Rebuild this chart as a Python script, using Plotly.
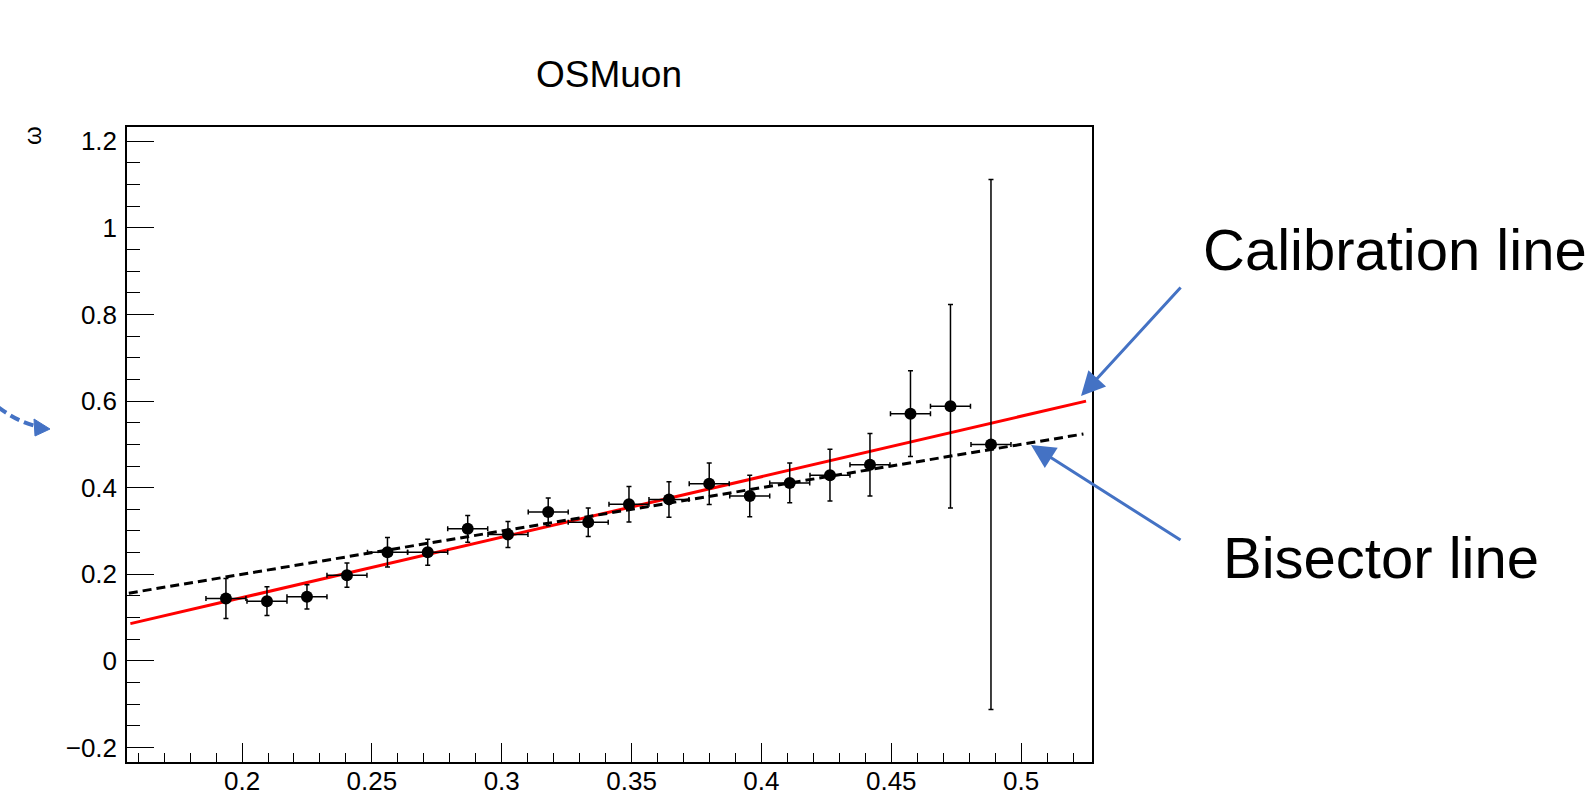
import plotly.graph_objects as go

# ---- data ----
eta = [0.1938, 0.2096, 0.2250, 0.2404, 0.2560, 0.2715, 0.2869, 0.3024, 0.3179, 0.3333,
       0.3490, 0.3644, 0.3799, 0.3955, 0.4109, 0.4264, 0.4418, 0.4574, 0.4728, 0.4884]
eta_err = [0.0077, 0.0077, 0.0077, 0.0077, 0.0077, 0.0077, 0.0077, 0.0077, 0.0077, 0.0077,
           0.0077, 0.0077, 0.0077, 0.0077, 0.0077, 0.0077, 0.0077, 0.0077, 0.0077, 0.0077]
omega = [0.144, 0.138, 0.148, 0.198, 0.251, 0.251, 0.305, 0.292, 0.344, 0.320,
         0.362, 0.373, 0.409, 0.381, 0.411, 0.429, 0.453, 0.571, 0.588, 0.500]
omega_err = [0.046, 0.033, 0.028, 0.028, 0.034, 0.030, 0.031, 0.030, 0.032, 0.033,
             0.041, 0.041, 0.048, 0.048, 0.046, 0.060, 0.072, 0.099, 0.235, 0.612]

calib_x = [0.157, 0.525]
calib_y = [0.086, 0.600]
bisector_x = [0.1564, 0.524]
bisector_y = [0.1564, 0.524]

title_text = "OSMuon"
x_title = "η"
y_title = "ω"
label_calib = "Calibration line"
label_bisector = "Bisector line"

# ---- geometry (pixels) ----
W, H = 1591, 803
L, R, T, B = 127, 1092, 127, 762
PW, PH = R - L, B - T


def px(xp):
    return (xp - L) / PW


def py(yp):
    return (B - yp) / PH


FONT = "Liberation Sans, Arial, Helvetica, sans-serif"
BLUE = "#4472C4"

fig = go.Figure()

fig.add_trace(go.Scatter(
    x=calib_x, y=calib_y, mode="lines",
    line=dict(color="#FF0000", width=3), hoverinfo="skip", showlegend=False))
fig.add_trace(go.Scatter(
    x=bisector_x, y=bisector_y, mode="lines",
    line=dict(color="black", width=3, dash="9px,5px"), hoverinfo="skip", showlegend=False))
fig.add_trace(go.Scatter(
    x=eta, y=omega, mode="markers",
    marker=dict(color="black", size=12),
    error_x=dict(type="data", array=eta_err, color="black", thickness=1.5, width=2.5),
    error_y=dict(type="data", array=omega_err, color="black", thickness=1.5, width=2.5),
    showlegend=False))

axis_common = dict(
    showgrid=False, zeroline=False, showline=True, linecolor="black", linewidth=1.5,
    mirror=True, ticks="inside", tickcolor="black", tickwidth=1.3, automargin=False,
    tickfont=dict(family=FONT, size=26, color="black"),
)

fig.update_xaxes(
    range=[0.1557, 0.5273], tick0=0, dtick=0.05, ticklen=19, ticklabelstandoff=-5,
    minor=dict(ticks="inside", dtick=0.01, ticklen=9, tickcolor="black", tickwidth=1.3),
    **axis_common)
fig.update_yaxes(
    range=[-0.2335, 1.233], tick0=0, dtick=0.2, ticklen=27, ticklabelstandoff=3,
    minor=dict(ticks="inside", dtick=0.05, ticklen=13, tickcolor="black", tickwidth=1.3),
    **axis_common)

annotations = [
    dict(text=title_text, x=px(608.5), y=py(74), xref="paper", yref="paper",
         xanchor="center", yanchor="middle", showarrow=False,
         font=dict(family=FONT, size=37, color="black")),
    dict(text=y_title, x=px(32), y=py(136), xref="paper", yref="paper",
         xanchor="center", yanchor="middle", showarrow=False, textangle=-90,
         font=dict(family=FONT, size=24, color="black")),
    dict(text=x_title, x=px(1082), y=py(810), xref="paper", yref="paper",
         xanchor="center", yanchor="middle", showarrow=False,
         font=dict(family=FONT, size=19, color="black")),
    dict(text=label_calib, x=px(1201), y=py(249.5), xref="paper", yref="paper",
         xanchor="left", yanchor="middle", showarrow=False,
         font=dict(family=FONT, size=58, color="black")),
    dict(text=label_bisector, x=px(1221), y=py(557.8), xref="paper", yref="paper",
         xanchor="left", yanchor="middle", showarrow=False,
         font=dict(family=FONT, size=58, color="black")),
    # arrows
    dict(text="", x=px(1081), y=py(396), xref="paper", yref="paper",
         ax=101, ay=-110, axref="pixel", ayref="pixel", showarrow=True,
         arrowhead=2, arrowsize=1.6, arrowwidth=3, arrowcolor=BLUE),
    dict(text="", x=px(1031), y=py(445), xref="paper", yref="paper",
         ax=151, ay=96, axref="pixel", ayref="pixel", showarrow=True,
         arrowhead=2, arrowsize=1.6, arrowwidth=3, arrowcolor=BLUE),
]

shapes = [
    dict(type="path", xref="paper", yref="paper",
         path=f"M {px(-2)} {py(407)} Q {px(18)} {py(422)} {px(36)} {py(426)}",
         line=dict(color=BLUE, width=4, dash="10px,5px")),
    dict(type="path", xref="paper", yref="paper",
         path=f"M {px(34)} {py(419)} L {px(50)} {py(429)} L {px(35)} {py(436)} Z",
         line=dict(color=BLUE, width=1), fillcolor=BLUE),
]

fig.update_layout(
    width=W, height=H, autosize=False,
    margin=dict(l=L, r=W - R, t=T, b=H - B, pad=0, autoexpand=False),
    plot_bgcolor="white", paper_bgcolor="white",
    annotations=annotations, shapes=shapes,
    showlegend=False,
)

fig.write_html("out.html", config={"displayModeBar": False},
               post_script="document.body.style.margin='0';")
